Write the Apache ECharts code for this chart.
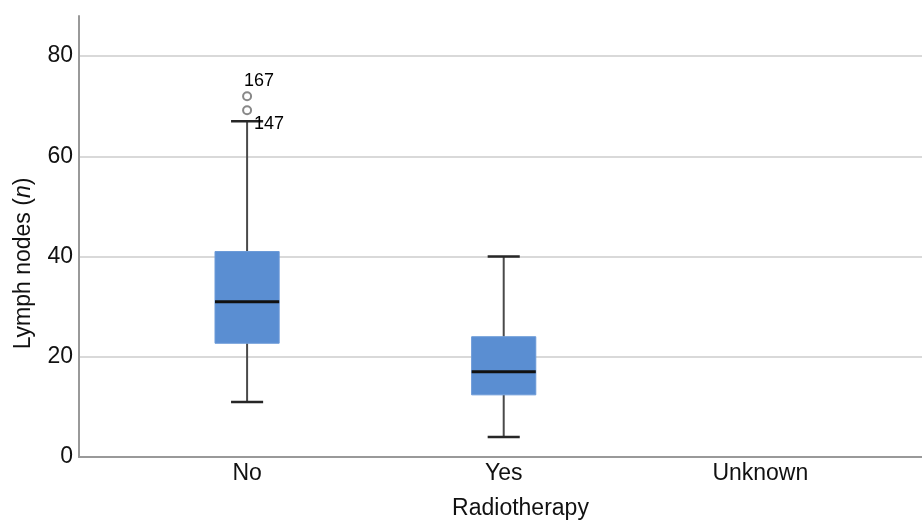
<!DOCTYPE html>
<html>
<head>
<meta charset="utf-8">
<script src="https://cdn.jsdelivr.net/npm/echarts@6/dist/echarts.min.js"></script>
<style>
  html, body { margin: 0; padding: 0; background: #fff; }
  #chart { width: 922px; height: 520px; }
</style>
</head>
<body>
<div id="chart"></div>
<script>
// 分组
const categories = ['No', 'Yes', 'Unknown']
// 每组 [min, Q1, median, Q3, max]
const boxNo = [11, 22.7, 31, 41, 67]
const boxYes = [4, 12.4, 17, 24, 40]
// 离群点
const outlierGroup = [0, 0]
const outlierValues = [69.2, 72]
const outlierIds = ['147', '167']
const yTicks = [0, 20, 40, 60, 80]

const boxData = [
  [0, ...boxNo],
  [1, ...boxYes],
]

const font = 'Liberation Sans, Arial, Helvetica, sans-serif'

function renderBox(params, api) {
  const x = api.value(0)
  const p = [1, 2, 3, 4, 5].map(i => api.coord([x, api.value(i)]))
  const cx = p[0][0]
  const band = api.size([1, 0])[0]
  const half = band * 0.125
  const capHalf = half / 2
  return {
    type: 'group',
    children: [
      { type: 'line', shape: { x1: cx, y1: p[0][1], x2: cx, y2: p[1][1] }, style: { stroke: '#4a4a4a', lineWidth: 2 } },
      { type: 'line', shape: { x1: cx, y1: p[3][1], x2: cx, y2: p[4][1] }, style: { stroke: '#4a4a4a', lineWidth: 2 } },
      { type: 'line', shape: { x1: cx - capHalf, y1: p[0][1], x2: cx + capHalf, y2: p[0][1] }, style: { stroke: '#262626', lineWidth: 2.5 } },
      { type: 'line', shape: { x1: cx - capHalf, y1: p[4][1], x2: cx + capHalf, y2: p[4][1] }, style: { stroke: '#262626', lineWidth: 2.5 } },
      { type: 'rect', shape: { x: cx - half, y: p[3][1], width: half * 2, height: p[1][1] - p[3][1] }, style: { fill: '#5a8ed2', stroke: '#6b9ad8', lineWidth: 1 } },
      { type: 'line', shape: { x1: cx - half, y1: p[2][1], x2: cx + half, y2: p[2][1] }, style: { stroke: '#111', lineWidth: 3 } },
    ],
  }
}

const chart = echarts.init(document.getElementById('chart'))
chart.setOption({
  animation: false,
  textStyle: { fontFamily: font },
  grid: { left: 79, right: 0, top: 16, bottom: 63, outerBoundsMode: 'none', containLabel: false },
  xAxis: {
    type: 'value',
    min: -0.655,
    max: 2.63,
    name: 'Radiotherapy',
    nameLocation: 'middle',
    nameGap: 40,
    nameTextStyle: { fontSize: 23, color: '#111', fontFamily: font, padding: [0, 0, 0, 40] },
    axisLine: { onZero: false, lineStyle: { color: '#999', width: 2 } },
    axisTick: { show: false },
    splitLine: { show: false },
    axisLabel: {
      fontSize: 23,
      color: '#111',
      margin: 5,
      showMinLabel: false,
      showMaxLabel: false,
      formatter: v => {
        const r = Math.round(v)
        return Math.abs(v - r) < 1e-6 && categories[r] ? categories[r] : ''
      },
    },
  },
  yAxis: {
    type: 'value',
    min: 0,
    max: 88,
    interval: 20,
    name: 'Lymph nodes ({i|n})',
    nameLocation: 'middle',
    nameGap: 44,
    nameTextStyle: {
      fontSize: 23,
      color: '#111',
      fontFamily: font,
      padding: [0, 54, 0, 0],
      rich: {
        i: { fontSize: 23, color: '#111', fontFamily: font, fontStyle: 'italic' },
      },
    },
    axisLine: { show: true, onZero: false, lineStyle: { color: '#999', width: 2 } },
    axisTick: { show: false },
    axisLabel: {
      fontSize: 23,
      color: '#111',
      margin: 6,
      formatter: v => (yTicks.includes(v) ? String(v) : ''),
    },
    splitLine: { showMaxLine: false, showMinLine: false, lineStyle: { color: '#d9d9d9', width: 2 } },
  },
  series: [
    {
      type: 'custom',
      renderItem: renderBox,
      encode: { x: 0, y: [1, 2, 3, 4, 5] },
      data: boxData,
      z: 3,
    },
    {
      type: 'scatter',
      symbol: 'emptyCircle',
      symbolSize: 8,
      itemStyle: { color: '#888', borderColor: '#888', borderWidth: 1.3, opacity: 1 },
      data: outlierValues.map((v, i) => ({
        value: [outlierGroup[i], v],
        label: {
          show: true,
          formatter: outlierIds[i],
          position: i === 0 ? 'right' : 'top',
          offset: i === 0 ? [-3, 14] : [12, 4],
          fontSize: 18,
          color: '#000',
          opacity: 1,
          fontFamily: font,
        },
      })),
      z: 4,
    },
  ],
})
</script>
</body>
</html>
